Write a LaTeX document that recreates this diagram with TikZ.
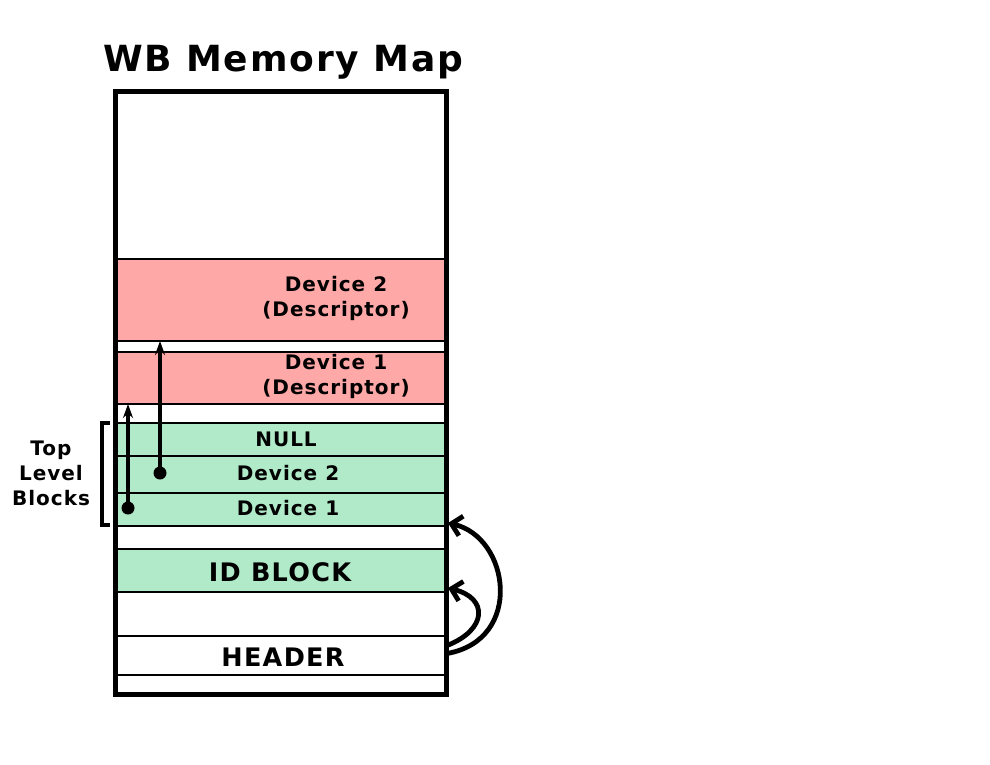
\documentclass[tikz,border=0pt]{standalone}
\usepackage{fontspec}
\setmainfont{DejaVu Sans}[LetterSpace=5.0]
\usetikzlibrary{arrows.meta}
\definecolor{pinkrow}{HTML}{FFA8A8}
\definecolor{greenrow}{HTML}{B0EAC8}
\begin{document}
\begin{tikzpicture}[x=1pt,y=-1pt,
  row/.style={draw=black,line width=1.6pt,inner sep=0pt,outer sep=0pt,minimum width=331pt,anchor=north west},
  lbl/.style={font=\bfseries\fontsize{20}{25}\selectfont,align=center,inner sep=0pt},
  biglbl/.style={font=\bfseries\fontsize{25.5}{30}\selectfont,inner sep=0pt},
  ptr/.style={line width=3.4pt,-{Stealth[length=14pt,width=10pt]}},
  link/.style={line width=4.8pt,-{Straight Barb[length=10pt,width=20pt]}},
  dotc/.style={circle,fill=black,inner sep=0pt,minimum size=13pt}]
\useasboundingbox (0,0) rectangle (990,765);
\node[font=\bfseries\fontsize{36}{42}\selectfont,inner sep=0pt] (title) at (283,62) {WB Memory Map};
% rows
\node[row,fill=pinkrow,minimum height=82pt] (desc2) at (115,259) {};
\node[row,fill=white,minimum height=11pt] (gap1) at (115,341) {};
\node[row,fill=pinkrow,minimum height=52pt] (desc1) at (115,352) {};
\node[row,fill=white,minimum height=19pt] (gap2) at (115,404) {};
\node[row,fill=greenrow,minimum height=33pt] (null) at (115,423) {};
\node[row,fill=greenrow,minimum height=37pt] (tb2) at (115,456) {};
\node[row,fill=greenrow,minimum height=33pt] (tb1) at (115,493) {};
\node[row,fill=white,minimum height=23pt] (gap3) at (115,526) {};
\node[row,fill=greenrow,minimum height=43pt] (idb) at (115,549) {};
\node[row,fill=white,minimum height=44pt] (gap4) at (115,592) {};
\node[row,fill=white,minimum height=39pt] (hdr) at (115,636) {};
\node[row,fill=white,minimum height=19pt] (gap5) at (115,675) {};
% outer box
\node[draw=black,line width=5pt,inner sep=0pt,outer sep=0pt,minimum width=331pt,minimum height=602pt,anchor=north west] (map) at (115,92) {};
% labels
\node[lbl] (t2) at (336,298) {Device 2\\(Descriptor)};
\node[lbl] (t1) at (336,376) {Device 1\\(Descriptor)};
\node[lbl] (tn) at (286,439) {NULL};
\node[lbl] (tt2) at (288,473) {Device 2};
\node[lbl] (tt1) at (288,508) {Device 1};
\node[biglbl] (tid) at (280,572) {ID BLOCK};
\node[biglbl] (th) at (283,657) {HEADER};
\node[lbl] (tlb) at (51,473) {Top\\Level\\Blocks};
% bracket
\coordinate (bt) at (110,423);
\coordinate (bb) at (110,525);
\draw[line width=3.2pt] (bt) -- (102,423) -- (102,525) -- (bb);
% pointers
\node[dotc] (d1) at (128,508) {};
\node[dotc] (d2) at (160,473) {};
\draw[ptr] (d1.center) -- (d1.center |- desc1.south);
\draw[ptr] (d2.center) -- (d2.center |- desc2.south);
% links
\draw[link] ([xshift=1pt,yshift=2pt]hdr.east) .. controls (524,640) and (510,537) .. ([xshift=2pt,yshift=3pt]tb1.south east);
\draw[link] ([xshift=1pt,yshift=10pt]hdr.east) .. controls (487,630) and (489,598) .. ([xshift=2pt,yshift=4pt]idb.south east);
\end{tikzpicture}
\end{document}
